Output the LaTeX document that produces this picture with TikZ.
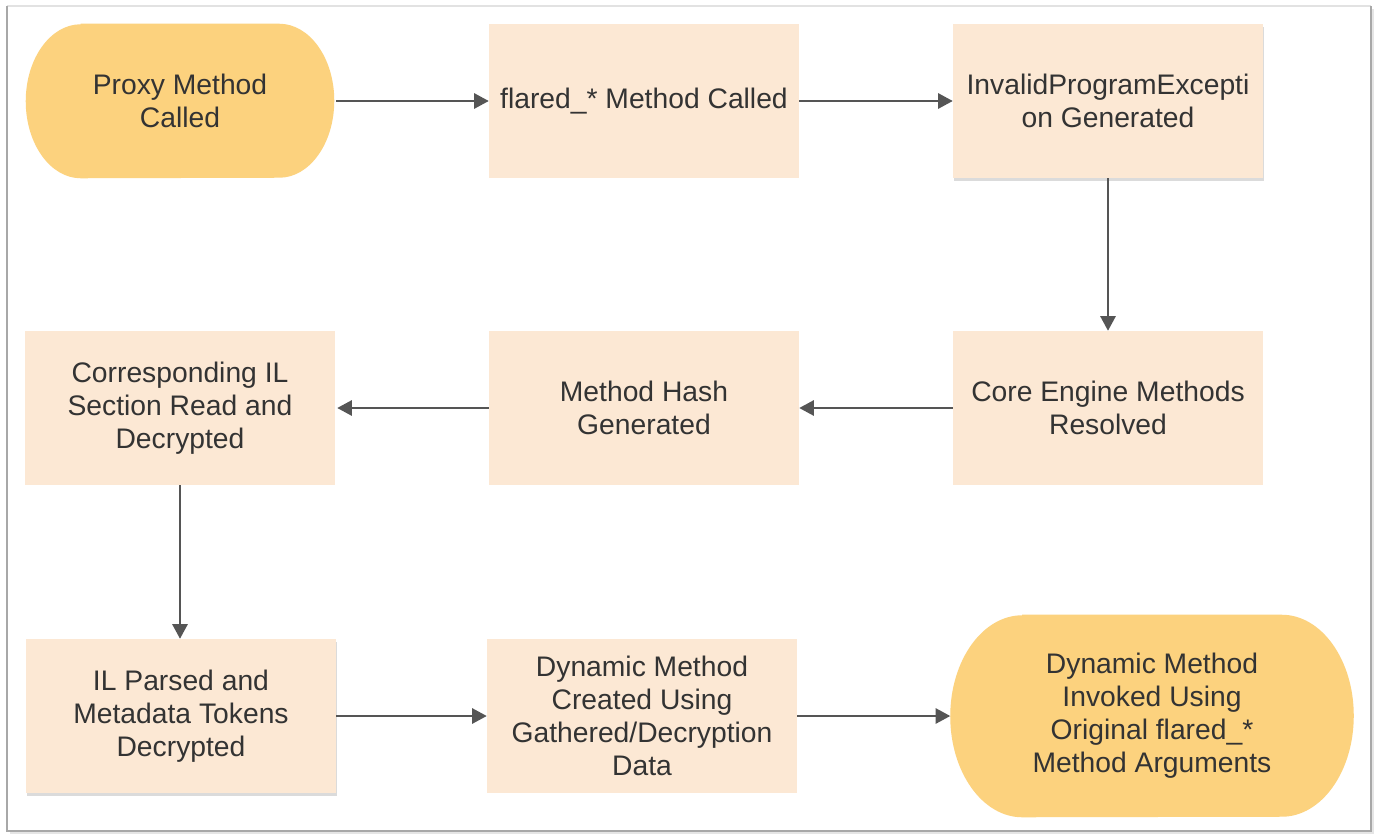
\documentclass[tikz,border=0pt]{standalone}
\usepackage{fontspec}
\setmainfont{Liberation Sans}
\usetikzlibrary{arrows.meta,backgrounds,shadows}
\definecolor{termfill}{HTML}{FCD27E}
\definecolor{boxfill}{HTML}{FCE8D4}
\definecolor{linecol}{HTML}{555555}
\definecolor{textcol}{HTML}{333333}
\definecolor{framecol}{HTML}{A8A8A8}
\definecolor{frametop}{HTML}{E2E2E2}

% Stadium-shaped backdrop with elliptical ends behind a terminator node
\newcommand\terminatorfill[3]{%
  \begin{scope}[on background layer]
    \fill[termfill] ([xshift=#2]#1.north west) -- ([xshift=-#2]#1.north east)
      arc[start angle=90, end angle=-90, x radius=#2, y radius=#3]
      -- ([xshift=#2]#1.south west)
      arc[start angle=270, end angle=90, x radius=#2, y radius=#3] -- cycle;
  \end{scope}}

\begin{document}
\begin{tikzpicture}[x=0.75pt, y=-0.75pt,
  every node/.style={text=textcol, align=center, inner sep=0pt,
    font=\fontsize{21.2pt}{24.75pt}\selectfont},
  stepbox/.style={rectangle, fill=boxfill, minimum width=232.5pt, minimum height=115.5pt},
  shadowbox/.style={stepbox, drop shadow={shadow xshift=1pt, shadow yshift=-2pt, opacity=0.14, fill=black}},
  termnode/.style={rectangle, minimum width=#1},
  flow/.style={draw=linecol, line width=1.5pt, -{Triangle[length=11pt, width=11.5pt]}}
]
% page and frame
\useasboundingbox (0,0) rectangle (1377,835);
\begin{scope}[on background layer]
  \fill[white] (0,0) rectangle (1377,835);
  \fill[black!10] (10,9) rectangle (1374,834);
  \fill[white] (7,6) rectangle (1371,831);
  \draw[frametop, line width=1.5pt] (7,6) -- (1371,6);
  \draw[framecol, line width=1.5pt] (1371,6) -- (1371,831) -- (7,831) -- (7,6);
\end{scope}

% first row
\node[termnode=231pt, minimum height=115.5pt] (start) at (180,101) {Proxy Method\\Called};
\terminatorfill{start}{41.25pt}{57.75pt}
\node[stepbox] (flared) at (644,101) {flared\_* Method Called};
\node[shadowbox] (invalid) at (1108,101) {InvalidProgramExcepti\\on Generated};

% second row
\node[stepbox] (core) at (1108,408) {Core Engine Methods\\Resolved};
\node[stepbox] (hash) at (644,408) {Method Hash\\Generated};
\node[stepbox] (ilread) at (180,408) {Corresponding IL\\Section Read and\\Decrypted};

% third row
\node[shadowbox] (ilparse) at (181,716) {IL Parsed and\\Metadata Tokens\\Decrypted};
\node[stepbox] (dyncreate) at (642,716) {Dynamic Method\\Created Using\\Gathered/Decryption\\Data};
\node[termnode=302.25pt, minimum height=151.5pt] (invoke) at (1152,716) {Dynamic Method\\Invoked Using\\Original flared\_*\\Method Arguments};
\terminatorfill{invoke}{54pt}{75.75pt}

% connectors
\draw[flow] ([xshift=1.5pt]start.east) -- (flared.west);
\draw[flow] (flared.east) -- (invalid.west);
\draw[flow] (invalid.south) -- (core.north);
\draw[flow] (core.west) -- (hash.east);
\draw[flow] (hash.west) -- ([xshift=1.5pt]ilread.east);
\draw[flow] (ilread.south) -- (ilread.south |- ilparse.north);
\draw[flow] (ilparse.east) -- (dyncreate.west);
\draw[flow] (dyncreate.east) -- (invoke.west);
\end{tikzpicture}
\end{document}
